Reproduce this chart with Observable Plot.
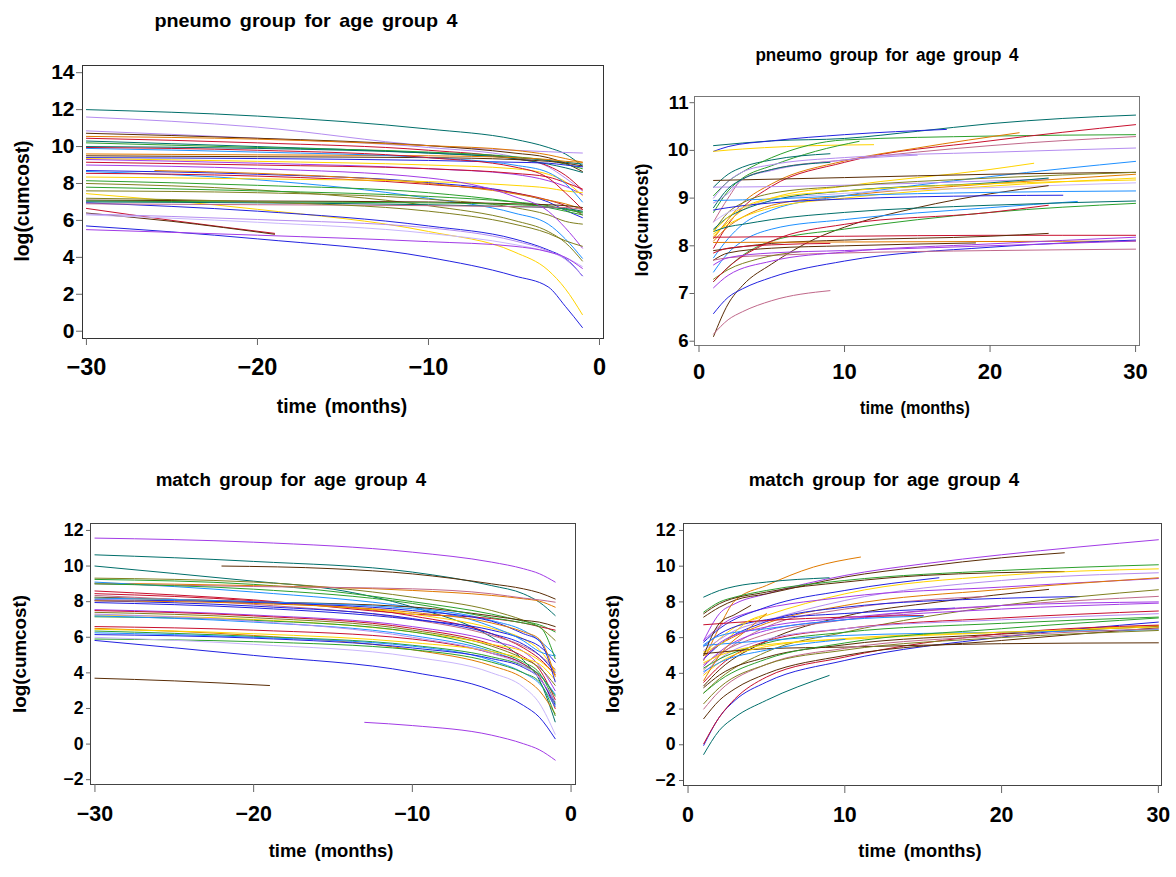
<!DOCTYPE html>
<html><head><meta charset="utf-8">
<script src="https://cdn.jsdelivr.net/npm/d3@7"></script>
<script src="https://cdn.jsdelivr.net/npm/@observablehq/plot@0.6"></script>
<style>
body{margin:0;background:#fff;}
#page{position:relative;width:1176px;height:877px;overflow:hidden;font-family:"Liberation Sans",Arial,sans-serif;font-weight:bold;color:#000;}
.t{position:absolute;left:0;top:0;white-space:pre;line-height:1;transform-origin:0 0;word-spacing:3px;}
</style></head><body><div id="page"></div>
<script>
// ---------- palette names ----------
const TEAL="#006e6a", LAV="#b48cf0", LILAC="#c9b6fb", PURP="#a23be6", BROWN="#5a2d06", ORNG="#e07a00",
      RED="#c8102e", GREEN="#2ca02c", BLUE="#2222e0", LBLUE="#1e90ff", YEL="#ffd400", OLIVE="#808020", PINK="#c0688a";

// ---------- text ----------
const titlePneumo = "pneumo group for age group 4";
const titleMatch = "match group for age group 4";
const xLabel = "time (months)";
const yLabel = "log(cumcost)";
const ticksNeg = [-30, -20, -10, 0];
const ticksPos = [0, 10, 20, 30];
const ticksTL = [0, 2, 4, 6, 8, 10, 12, 14];
const ticksTR = [6, 7, 8, 9, 10, 11];
const ticksBottom = [-2, 0, 2, 4, 6, 8, 10, 12];

// ---------- top-left: pneumo, before ----------
const tlSeries = [
 [[-30,12.0],[-20,11.65],[-10,10.95],[-5,10.4],[-3,9.95],[-2,9.6],[-1,8.95]],
 [[-30,11.6],[-20,11.05],[-10,10.05],[-5,9.8],[-3,9.72],[-2,9.68],[-1,9.65]],
 [[-30,10.85],[-20,10.45],[-10,9.95],[-5,9.45],[-3,8.9],[-2,8.3],[-1,7.6]],
 [[-30,10.72],[-20,10.45],[-10,10.05],[-5,9.65],[-3,9.4],[-2,9.1],[-1,8.65]],
 [[-30,10.55],[-20,10.4],[-10,10.05],[-5,9.8],[-3,9.55],[-2,9.35],[-1,9.15]],
 [[-30,10.45],[-20,10.2],[-10,9.8],[-5,9.35],[-3,8.95],[-2,8.45],[-1,7.65]],
 [[-30,10.3],[-20,10.0],[-10,9.65],[-5,9.35],[-3,9.05],[-2,8.85],[-1,8.6]],
 [[-30,10.2],[-20,9.95],[-10,9.7],[-5,9.45],[-3,9.25],[-2,9.05],[-1,8.8]],
 [[-30,10.0],[-20,9.9],[-10,9.65],[-5,9.4],[-3,9.25],[-2,9.15],[-1,9.05]],
 [[-30,9.6],[-20,9.55],[-10,9.5],[-5,9.4],[-3,9.3],[-2,9.2],[-1,9.15]],
 [[-30,9.5],[-20,9.45],[-10,9.4],[-5,9.3],[-3,9.2],[-2,9.1],[-1,8.95]],
 [[-30,9.4],[-20,9.35],[-10,9.25],[-5,9.15],[-3,9.1],[-2,9.0],[-1,8.9]],
 [[-30,9.35],[-20,9.2],[-10,9.0],[-5,8.8],[-3,8.5],[-2,8.1],[-1,7.35]],
 [[-30,9.3],[-20,9.1],[-10,8.8],[-5,8.5],[-3,8.15],[-2,7.85],[-1,7.4]],
 [[-30,9.15],[-20,9.0],[-10,8.8],[-5,8.55],[-3,8.35],[-2,8.05],[-1,7.7]],
 [[-30,8.7],[-20,8.5],[-10,8.05],[-5,7.5],[-3,7.0],[-2,6.55],[-1,6.15]],
 [[-30,8.65],[-20,8.2],[-10,7.2],[-5,6.4],[-3,5.8],[-2,5.0],[-1,3.95]],
 [[-30,8.55],[-20,8.4],[-10,7.95],[-5,7.5],[-3,7.1],[-2,6.8],[-1,6.3]],
 [[-26,8.7],[-20,8.55],[-10,8.0],[-5,7.45],[-3,7.1],[-2,6.9],[-1,6.6]],
 [[-30,8.35],[-20,8.25],[-10,8.1],[-5,7.9],[-3,7.75],[-2,7.6],[-1,7.5]],
 [[-30,8.15],[-20,7.9],[-10,7.5],[-5,7.0],[-3,6.7],[-2,6.5],[-1,6.3]],
 [[-30,8.0],[-20,7.65],[-10,6.8],[-5,6.0],[-3,5.4],[-2,4.8],[-1,3.8]],
 [[-30,7.8],[-20,7.6],[-10,7.3],[-5,7.0],[-3,6.8],[-2,6.6],[-1,6.45]],
 [[-30,7.6],[-20,7.5],[-10,7.15],[-5,6.7],[-3,6.3],[-2,5.95],[-1,5.8]],
 [[-30,7.45],[-20,6.6],[-10,5.4],[-5,4.3],[-3,3.3],[-2,2.3],[-1,0.9]],
 [[-30,7.1],[-20,7.05],[-10,7.0],[-5,6.9],[-3,6.85],[-2,6.8],[-1,6.7]],
 [[-30,7.05],[-20,7.0],[-10,6.95],[-5,6.85],[-3,6.75],[-2,6.6],[-1,6.4]],
 [[-30,7.0],[-20,6.95],[-10,6.85],[-5,6.75],[-3,6.7],[-2,6.65],[-1,6.5]],
 [[-30,6.95],[-20,6.5],[-10,5.7],[-5,5.0],[-3,4.4],[-2,3.95],[-1,3.0]],
 [[-30,6.9],[-20,6.85],[-10,6.8],[-5,6.75],[-3,6.72],[-2,6.7],[-1,6.6]],
 [[-30,6.65],[-25,6.0],[-19,5.3]],
 [[-30,6.4],[-25,5.95],[-19,5.25]],
 [[-30,6.35],[-20,6.05],[-10,5.6],[-5,4.9],[-3,4.35],[-2,3.9],[-1,3.0]],
 [[-30,6.3],[-20,5.9],[-10,5.3],[-5,4.7],[-3,4.3],[-2,4.0],[-1,3.5]],
 [[-30,5.7],[-20,5.0],[-10,4.0],[-5,3.0],[-3,2.4],[-2,1.35],[-1,0.2]],
 [[-30,5.5],[-20,5.2],[-10,4.85],[-5,4.6],[-3,4.3],[-2,4.0],[-1,3.4]],
 [[-30,9.0],[-20,8.8],[-10,8.3],[-5,7.3],[-3,6.5],[-2,5.6],[-1,4.5]],
 [[-30,9.9],[-20,9.7],[-10,9.4],[-5,9.0],[-3,8.6],[-2,8.0],[-1,7.0]],
 [[-30,7.2],[-20,7.0],[-10,6.5],[-5,5.8],[-3,5.3],[-2,4.9],[-1,4.6]],
 [[-30,9.95],[-20,9.8],[-10,9.4],[-5,8.9],[-3,8.3],[-2,7.5],[-1,6.6]]
];
const tlColors = [TEAL,LAV,LAV,BROWN,ORNG,RED,TEAL,GREEN,TEAL,ORNG,BROWN,BLUE,YEL,PURP,RED,BLUE,LBLUE,RED,ORNG,YEL,
 GREEN,OLIVE,GREEN,OLIVE,YEL,BROWN,GREEN,TEAL,BLUE,PINK,RED,BROWN,LAV,LILAC,BLUE,PURP,PURP,LBLUE,OLIVE,RED];

// ---------- top-right: pneumo, after ----------
const trSeries = [
 [[1,10.1],[5,10.2],[10,10.25],[15,10.4],[20,10.56],[25,10.67],[30,10.74]],
 [[1,9.98],[2,10.08],[5,10.2],[10,10.33],[17,10.44]],
 [[1,9.98],[3,10.03],[6,10.08],[12,10.12]],
 [[1,8.7],[2,9.15],[3,9.42],[5,9.68],[8,9.98],[11,10.19]],
 [[1,9.23],[2,9.5],[3,9.65],[5,9.8],[9,9.93]],
 [[1,9.05],[2,9.35],[3,9.55],[5,9.85],[10,10.22],[20,10.3],[30,10.33]],
 [[1,7.95],[2,8.45],[3,8.8],[5,9.25],[10,9.75],[20,10.2],[30,10.54]],
 [[1,8.15],[2,8.55],[3,8.9],[5,9.3],[10,9.78],[15,10.05],[22,10.37]],
 [[1,8.5],[2,9.0],[3,9.4],[5,9.6],[10,9.8],[20,10.1],[30,10.29]],
 [[1,9.0],[2,9.35],[3,9.55],[5,9.7],[10,9.85],[20,9.96],[30,10.05]],
 [[1,7.75],[2,8.15],[3,8.45],[5,8.75],[10,9.05],[20,9.45],[30,9.77]],
 [[1,8.2],[2,8.5],[3,8.75],[5,9.0],[10,9.25],[20,9.6],[23,9.73]],
 [[1,9.37],[10,9.43],[20,9.5],[30,9.54]],
 [[1,9.23],[5,9.24],[10,9.27],[20,9.36],[24,9.4]],
 [[1,8.3],[2,8.7],[3,8.9],[5,9.1],[10,9.25],[20,9.42],[30,9.54]],
 [[1,8.1],[2,8.4],[3,8.6],[5,8.85],[10,9.05],[20,9.3],[30,9.5]],
 [[1,8.25],[2,8.45],[3,8.6],[5,8.8],[10,9.0],[20,9.25],[30,9.42]],
 [[1,8.5],[2,8.7],[3,8.8],[5,8.95],[10,9.1],[20,9.22],[30,9.32]],
 [[1,8.35],[2,8.6],[3,8.75],[5,8.95],[10,9.15],[20,9.32],[24,9.42]],
 [[1,6.1],[2,6.78],[3,7.17],[5,7.62],[8,8.15],[10,8.39],[15,8.8],[20,9.09],[24,9.26]],
 [[1,8.95],[5,8.98],[10,9.05],[20,9.12],[30,9.15]],
 [[1,8.75],[2,8.8],[5,8.9],[10,8.98],[20,9.05],[25,9.06]],
 [[1,7.45],[2,7.85],[3,8.1],[5,8.35],[10,8.55],[20,8.8],[26,8.93]],
 [[1,8.3],[2,8.4],[3,8.45],[5,8.55],[10,8.7],[20,8.85],[30,8.94]],
 [[1,7.25],[2,7.55],[3,7.8],[5,8.1],[10,8.35],[20,8.7],[30,8.89]],
 [[1,8.18],[10,8.2],[20,8.22],[30,8.22]],
 [[1,7.9],[5,8.05],[10,8.12],[20,8.2],[24,8.26]],
 [[1,8.07],[10,8.08],[20,8.09],[30,8.1]],
 [[1,7.7],[2,7.85],[5,7.95],[10,8.0],[19,8.06]],
 [[1,7.85],[2,7.95],[5,8.02],[9,8.05]],
 [[1,6.58],[2,6.92],[3,7.1],[5,7.34],[10,7.68],[20,7.97],[30,8.12]],
 [[1,6.15],[2,6.45],[3,6.62],[5,6.85],[9,7.06]],
 [[1,7.7],[2,7.75],[5,7.8],[10,7.85],[20,7.9],[30,7.93]],
 [[1,7.12],[2,7.38],[5,7.68],[10,7.87],[20,8.04],[30,8.18]],
 [[1,7.3],[2,7.5],[4,7.72],[7,7.88]],
 [[1,7.25],[2,7.55],[5,8.1],[10,8.45],[20,8.7],[24,8.85]],
 [[1,8.9],[2,9.1],[3,9.4],[5,9.58],[10,9.8],[15,9.9]],
 [[1,7.6],[2,7.75],[5,7.85],[10,7.9],[20,8.0],[30,8.1]],
 [[1,8.8],[2,9.2],[3,9.4],[5,9.6],[9,9.75]],
 [[1,8.3],[2,8.6],[3,8.8],[5,9.0],[10,9.15],[20,9.3],[30,9.38]]
];
const trColors = [TEAL,BLUE,YEL,GREEN,TEAL,GREEN,RED,ORNG,PINK,LAV,LBLUE,YEL,BROWN,LAV,OLIVE,ORNG,YEL,LILAC,TEAL,BROWN,
 LBLUE,BLUE,LBLUE,TEAL,GREEN,RED,BROWN,ORNG,BROWN,RED,BLUE,PINK,PINK,PURP,OLIVE,RED,LAV,PURP,TEAL,YEL];

// ---------- bottom-left: match, before ----------
const blSeries = [
 [[-30,11.57],[-20,11.34],[-10,10.78],[-5,10.22],[-3,9.85],[-2,9.57],[-1,9.1]],
 [[-30,10.63],[-20,10.26],[-10,9.66],[-5,8.9],[-3,8.44],[-2,7.97],[-1,7.22]],
 [[-22,10.0],[-15,9.85],[-10,9.56],[-5,9.0],[-3,8.72],[-2,8.5],[-1,8.15]],
 [[-30,10.0],[-20,9.15],[-15,8.7],[-10,7.7],[-5,6.0],[-3,4.7],[-2,3.6],[-1,1.25]],
 [[-30,9.32],[-20,9.1],[-10,8.25],[-5,7.5],[-3,6.95],[-2,6.57],[-1,5.82]],
 [[-30,9.25],[-20,8.97],[-10,8.0],[-5,7.3],[-3,6.9],[-2,6.7],[-1,6.3]],
 [[-30,9.04],[-20,8.9],[-10,8.63],[-5,8.35],[-3,8.16],[-2,8.03],[-1,7.69]],
 [[-30,9.0],[-20,8.85],[-10,8.72],[-5,8.44],[-3,8.2],[-2,8.1],[-1,7.97]],
 [[-30,9.1],[-20,8.54],[-10,7.69],[-5,6.94],[-3,6.38],[-2,5.82],[-1,5.0]],
 [[-30,8.6],[-20,8.1],[-10,7.3],[-5,7.05],[-3,6.8],[-2,6.6],[-1,6.4]],
 [[-30,8.25],[-20,8.0],[-10,7.7],[-5,7.2],[-3,6.95],[-2,6.85],[-1,6.6]],
 [[-30,8.45],[-20,8.05],[-10,7.2],[-5,6.2],[-3,5.4],[-2,4.8],[-1,3.9]],
 [[-30,8.35],[-20,7.85],[-10,7.0],[-5,6.1],[-3,5.5],[-2,5.0],[-1,4.2]],
 [[-30,8.2],[-20,7.95],[-10,7.3],[-5,6.5],[-3,5.9],[-2,5.3],[-1,4.1]],
 [[-30,8.05],[-20,7.75],[-10,7.05],[-5,6.2],[-3,5.6],[-2,5.0],[-1,4.0]],
 [[-30,7.95],[-20,7.65],[-10,7.0],[-5,6.4],[-3,5.9],[-2,5.5],[-1,4.6]],
 [[-30,7.55],[-20,7.25],[-10,6.6],[-5,5.8],[-3,5.2],[-2,4.4],[-1,3.0]],
 [[-30,7.5],[-20,7.2],[-10,6.5],[-5,5.6],[-3,4.9],[-2,4.2],[-1,2.5]],
 [[-30,7.4],[-20,7.1],[-10,6.4],[-5,5.5],[-3,4.8],[-2,4.3],[-1,3.3]],
 [[-30,7.25],[-20,7.0],[-10,6.3],[-5,5.6],[-3,5.2],[-2,4.7],[-1,3.9]],
 [[-30,7.15],[-20,6.95],[-10,6.3],[-5,5.3],[-3,4.6],[-2,4.0],[-1,2.3]],
 [[-30,7.2],[-20,6.85],[-10,6.1],[-5,5.2],[-3,4.5],[-2,3.9],[-1,2.8]],
 [[-30,6.6],[-20,6.4],[-10,5.9],[-5,5.1],[-3,4.5],[-2,3.8],[-1,2.0]],
 [[-30,6.5],[-20,6.1],[-10,5.3],[-5,4.4],[-3,3.7],[-2,3.0],[-1,1.7]],
 [[-30,6.45],[-20,6.2],[-10,5.7],[-5,5.2],[-3,4.8],[-2,4.5],[-1,3.6]],
 [[-30,6.35],[-20,6.05],[-10,5.55],[-5,4.9],[-3,4.4],[-2,3.9],[-1,2.7]],
 [[-30,6.25],[-20,6.0],[-10,5.5],[-5,4.7],[-3,4.0],[-2,3.4],[-1,2.1]],
 [[-30,6.15],[-20,5.95],[-10,5.4],[-5,4.8],[-3,4.3],[-2,3.7],[-1,2.2]],
 [[-30,5.9],[-20,5.75],[-10,5.3],[-5,4.6],[-3,4.0],[-2,3.5],[-1,1.6]],
 [[-30,6.0],[-20,5.6],[-10,4.9],[-5,4.0],[-3,3.2],[-2,2.3],[-1,0.55]],
 [[-30,5.82],[-20,4.98],[-10,4.04],[-5,3.01],[-3,2.17],[-2,1.51],[-1,0.3]],
 [[-30,3.7],[-25,3.55],[-19,3.29]],
 [[-13,1.22],[-10,1.04],[-5,0.5],[-3,0.02],[-2,-0.32],[-1,-0.9]],
 [[-30,8.2],[-20,8.0],[-10,7.6],[-5,6.6],[-3,5.8],[-2,5.2],[-1,4.95]],
 [[-30,8.1],[-20,7.95],[-10,7.5],[-5,6.9],[-3,6.2],[-2,5.8],[-1,3.5]],
 [[-30,8.05],[-20,7.9],[-10,7.4],[-5,6.8],[-3,6.3],[-2,5.9],[-1,3.8]],
 [[-30,9.0],[-20,8.7],[-10,7.9],[-5,7.1],[-3,6.8],[-2,6.6],[-1,4.8]],
 [[-30,7.3],[-20,6.9],[-10,6.0],[-5,5.1],[-3,4.4],[-2,3.7],[-1,2.4]]
];
const blColors = [PURP,TEAL,BROWN,TEAL,OLIVE,GREEN,ORNG,PINK,LBLUE,RED,BROWN,RED,PINK,YEL,BLUE,BLUE,PURP,RED,OLIVE,YEL,
 GREEN,LBLUE,RED,ORNG,YEL,GREEN,LBLUE,BLUE,GREEN,LILAC,BLUE,BROWN,PURP,LBLUE,BLUE,ORNG,GREEN,LAV];

// ---------- bottom-right: match, after ----------
const brSeries = [
 [[1,5.84],[2,7.34],[3,7.9],[5,8.45],[10,9.48],[15,10.13],[20,10.64],[30,11.48]],
 [[1,7.15],[2,7.7],[3,8.1],[5,8.45],[10,9.39],[15,9.98],[20,10.47],[24,10.75]],
 [[1,4.72],[2,6.59],[3,8.08],[5,8.92],[8,9.95],[11,10.51]],
 [[1,8.27],[2,8.64],[3,8.87],[5,9.11],[9,9.35]],
 [[1,7.43],[2,7.99],[3,8.27],[5,8.64],[10,9.2],[20,9.76],[30,10.08]],
 [[1,7.34],[2,7.9],[5,8.55],[10,9.11],[15,9.48],[24,9.7]],
 [[1,5.1],[3,6.59],[5,7.24],[10,8.45],[20,9.48],[30,9.85]],
 [[1,5.28],[3,6.4],[5,6.96],[10,8.08],[20,9.2],[30,9.63]],
 [[1,5.84],[3,7.15],[10,8.27],[20,8.83],[30,9.31]],
 [[1,5.75],[2,6.5],[5,7.71],[10,8.64],[16,9.35]],
 [[1,5.0],[2,5.6],[5,6.8],[10,7.8],[20,8.7],[30,9.35]],
 [[1,3.3],[2,4.2],[5,5.8],[10,7.2],[16,8.0],[23,8.7]],
 [[1,4.2],[2,5.0],[5,6.6],[10,7.6],[15,8.1],[19,8.3]],
 [[1,4.8],[2,5.6],[5,6.9],[10,7.7],[20,8.2],[25,8.3]],
 [[1,2.9],[2,3.7],[5,5.2],[10,6.3],[20,7.8],[30,8.68]],
 [[1,4.5],[2,5.1],[5,6.2],[10,7.0],[20,7.8],[30,8.31]],
 [[1,4.4],[2,5.2],[5,6.4],[10,7.0],[20,7.6],[30,7.93]],
 [[1,5.5],[2,6.2],[5,7.0],[10,7.35],[17,7.65]],
 [[1,6.72],[5,6.96],[10,7.15],[15,7.24]],
 [[1,3.5],[2,4.4],[5,5.8],[10,6.5],[20,7.1],[30,7.49]],
 [[1,4.0],[2,4.8],[5,5.9],[10,6.5],[20,7.0],[30,7.34]],
 [[1,4.3],[2,4.8],[5,5.7],[10,6.3],[20,6.8],[30,7.15]],
 [[1,3.2],[2,3.9],[5,4.9],[10,5.6],[20,6.2],[30,6.63]],
 [[1,4.6],[2,5.0],[5,5.6],[10,5.9],[20,6.3],[30,6.68]],
 [[1,-0.03],[2,1.55],[3,2.49],[5,3.51],[10,4.72],[20,6.03],[30,6.87]],
 [[1,0.06],[2,1.55],[3,2.58],[5,3.79],[10,4.91],[20,6.22],[30,6.7]],
 [[1,-0.54],[2,0.81],[3,1.55],[5,2.49],[9,3.88]],
 [[1,1.46],[2,2.49],[3,3.14],[5,3.98],[10,5.0],[20,5.84],[30,6.55]],
 [[1,5.1],[5,5.38],[10,5.47],[20,5.66],[30,5.71]],
 [[1,5.56],[5,5.84],[10,6.12],[20,6.3],[30,6.44]],
 [[1,3.9],[2,4.6],[5,5.5],[10,5.95],[20,6.3],[30,6.6]],
 [[1,2.9],[2,3.6],[5,4.8],[10,5.7],[20,6.5],[30,7.1]],
 [[1,2.0],[2,3.0],[5,4.5],[10,5.4],[20,6.1],[30,6.5]],
 [[1,2.3],[2,3.2],[5,4.5],[10,5.3],[20,6.0],[30,6.4]],
 [[1,4.1],[2,4.6],[5,5.3],[10,5.9]],
 [[1,5.2],[2,5.6],[4,7.0],[5,7.3]],
 [[1,3.6],[2,5.0],[4,6.6],[5,7.35]],
 [[1,5.0],[2,6.8],[3,7.3],[4,7.8]],
 [[1,5.6],[2,6.1],[5,6.5],[10,7.0],[15,7.2]],
 [[1,4.8],[2,5.7],[5,6.6],[10,7.1],[20,7.8],[30,8.0]]
];
const brColors = [PURP,BROWN,ORNG,TEAL,GREEN,BROWN,YEL,LAV,PURP,BLUE,ORNG,BROWN,PINK,BLUE,OLIVE,PINK,PURP,BLUE,RED,RED,
 LAV,GREEN,BROWN,YEL,BLUE,RED,TEAL,BROWN,BROWN,LBLUE,YEL,GREEN,PINK,OLIVE,LBLUE,YEL,ORNG,BROWN,LBLUE,PURP];

// ---------- layout (positions & styles) ----------
const FONT = '"Liberation Sans", Arial, Helvetica, sans-serif';
const fmt = d3.format("d");
const panels = [
 {series: tlSeries, colors: tlColors, left: 0, top: 40, w: 620, h: 400, m: [25, 17, 102, 82],
  xd: [-30.23, 0.234], yd: [-0.395, 14.39], xt: ticksNeg, yt: ticksTL, frame: "#333",
  xs: {size: 7, pad: 13, fs: 23.5}, ys: {size: 6, pad: 2, fs: 21}},
 {series: trSeries, colors: trColors, left: 600, top: 80, w: 576, h: 340, m: [16, 37, 75, 94],
  xd: [-0.31, 30.27], yd: [5.91, 11.13], xt: ticksPos, yt: ticksTR, frame: "#777",
  xs: {size: 7, pad: 11, fs: 22}, ys: {size: 4.5, pad: 1.5, fs: 18.6}},
 {series: blSeries, colors: blColors, left: 0, top: 500, w: 600, h: 377, m: [23, 25, 93, 90],
  xd: [-30.28, 0.28], yd: [-2.27, 12.39], xt: ticksNeg, yt: ticksBottom, frame: "#444",
  xs: {size: 8, pad: 13, fs: 21.4}, ys: {size: 4, pad: 3, fs: 17.7}},
 {series: brSeries, colors: brColors, left: 590, top: 500, w: 586, h: 377, m: [23, 15, 92, 93],
  xd: [-0.29, 30.2], yd: [-2.28, 12.39], xt: ticksPos, yt: ticksBottom, frame: "#444",
  xs: {size: 8, pad: 13, fs: 21.4}, ys: {size: 4, pad: 4, fs: 17.7}}
];
const texts = [
 {s: titlePneumo, x: 306, y: 27, fs: 19, k: 1.04},
 {s: xLabel, x: 342, y: 413, fs: 19.3, k: 1.0},
 {s: yLabel, x: 29, y: 201, fs: 19.3, rot: true},
 {s: titlePneumo, x: 887, y: 61, fs: 18, k: 0.95},
 {s: xLabel, x: 915, y: 414, fs: 18, k: 0.9},
 {s: yLabel, x: 648, y: 220, fs: 18, rot: true},
 {s: titleMatch, x: 291, y: 487, fs: 18.8, k: 1.0},
 {s: xLabel, x: 331, y: 858, fs: 18.8, k: 0.98},
 {s: yLabel, x: 27, y: 654, fs: 18.8, rot: true},
 {s: titleMatch, x: 884, y: 487, fs: 18.8, k: 1.0},
 {s: xLabel, x: 920, y: 858, fs: 18.8, k: 0.97},
 {s: yLabel, x: 620, y: 654, fs: 18.8, rot: true}
];

const page = document.getElementById("page");

for (const p of panels) {
  const data = p.series.flatMap((s, i) => s.map(([t, v]) => ({t, v, id: i, c: p.colors[i % p.colors.length]})));
  const svg = Plot.plot({
    width: p.w, height: p.h,
    marginTop: p.m[0], marginRight: p.m[1], marginBottom: p.m[2], marginLeft: p.m[3],
    x: {domain: p.xd, label: null},
    y: {domain: p.yd, label: null},
    color: {type: "identity"},
    style: {fontFamily: FONT, fontWeight: "bold", background: "transparent", color: "#000", overflow: "visible"},
    marks: [
      Plot.line(data, {x: "t", y: "v", z: "id", stroke: "c", strokeWidth: 1, curve: "monotone-x"}),
      Plot.frame({stroke: p.frame, strokeWidth: 1}),
      Plot.axisX({ticks: p.xt, tickFormat: fmt, tickSize: p.xs.size, tickPadding: p.xs.pad, fontSize: p.xs.fs, fontWeight: "bold", stroke: "#666", label: null}),
      Plot.axisY({ticks: p.yt, tickFormat: fmt, tickSize: p.ys.size, tickPadding: p.ys.pad, fontSize: p.ys.fs, fontWeight: "bold", stroke: "#666", label: null})
    ]
  });
  svg.style.position = "absolute";
  svg.style.left = p.left + "px";
  svg.style.top = p.top + "px";
  svg.style.maxWidth = "none";
  page.appendChild(svg);
}

for (const t of texts) {
  const d = document.createElement("div");
  d.className = "t";
  d.textContent = t.s;
  d.style.fontSize = t.fs + "px";
  d.style.height = t.fs + "px";
  if (t.rot) {
    d.style.transform = `translate(${t.x}px, ${t.y}px) rotate(-90deg) translate(-50%, -0.8465em)`;
  } else {
    d.style.transform = `translate(${t.x}px, ${t.y}px) scaleX(${t.k}) translate(-50%, -0.8465em)`;
  }
  page.appendChild(d);
}
</script>
</body></html>
